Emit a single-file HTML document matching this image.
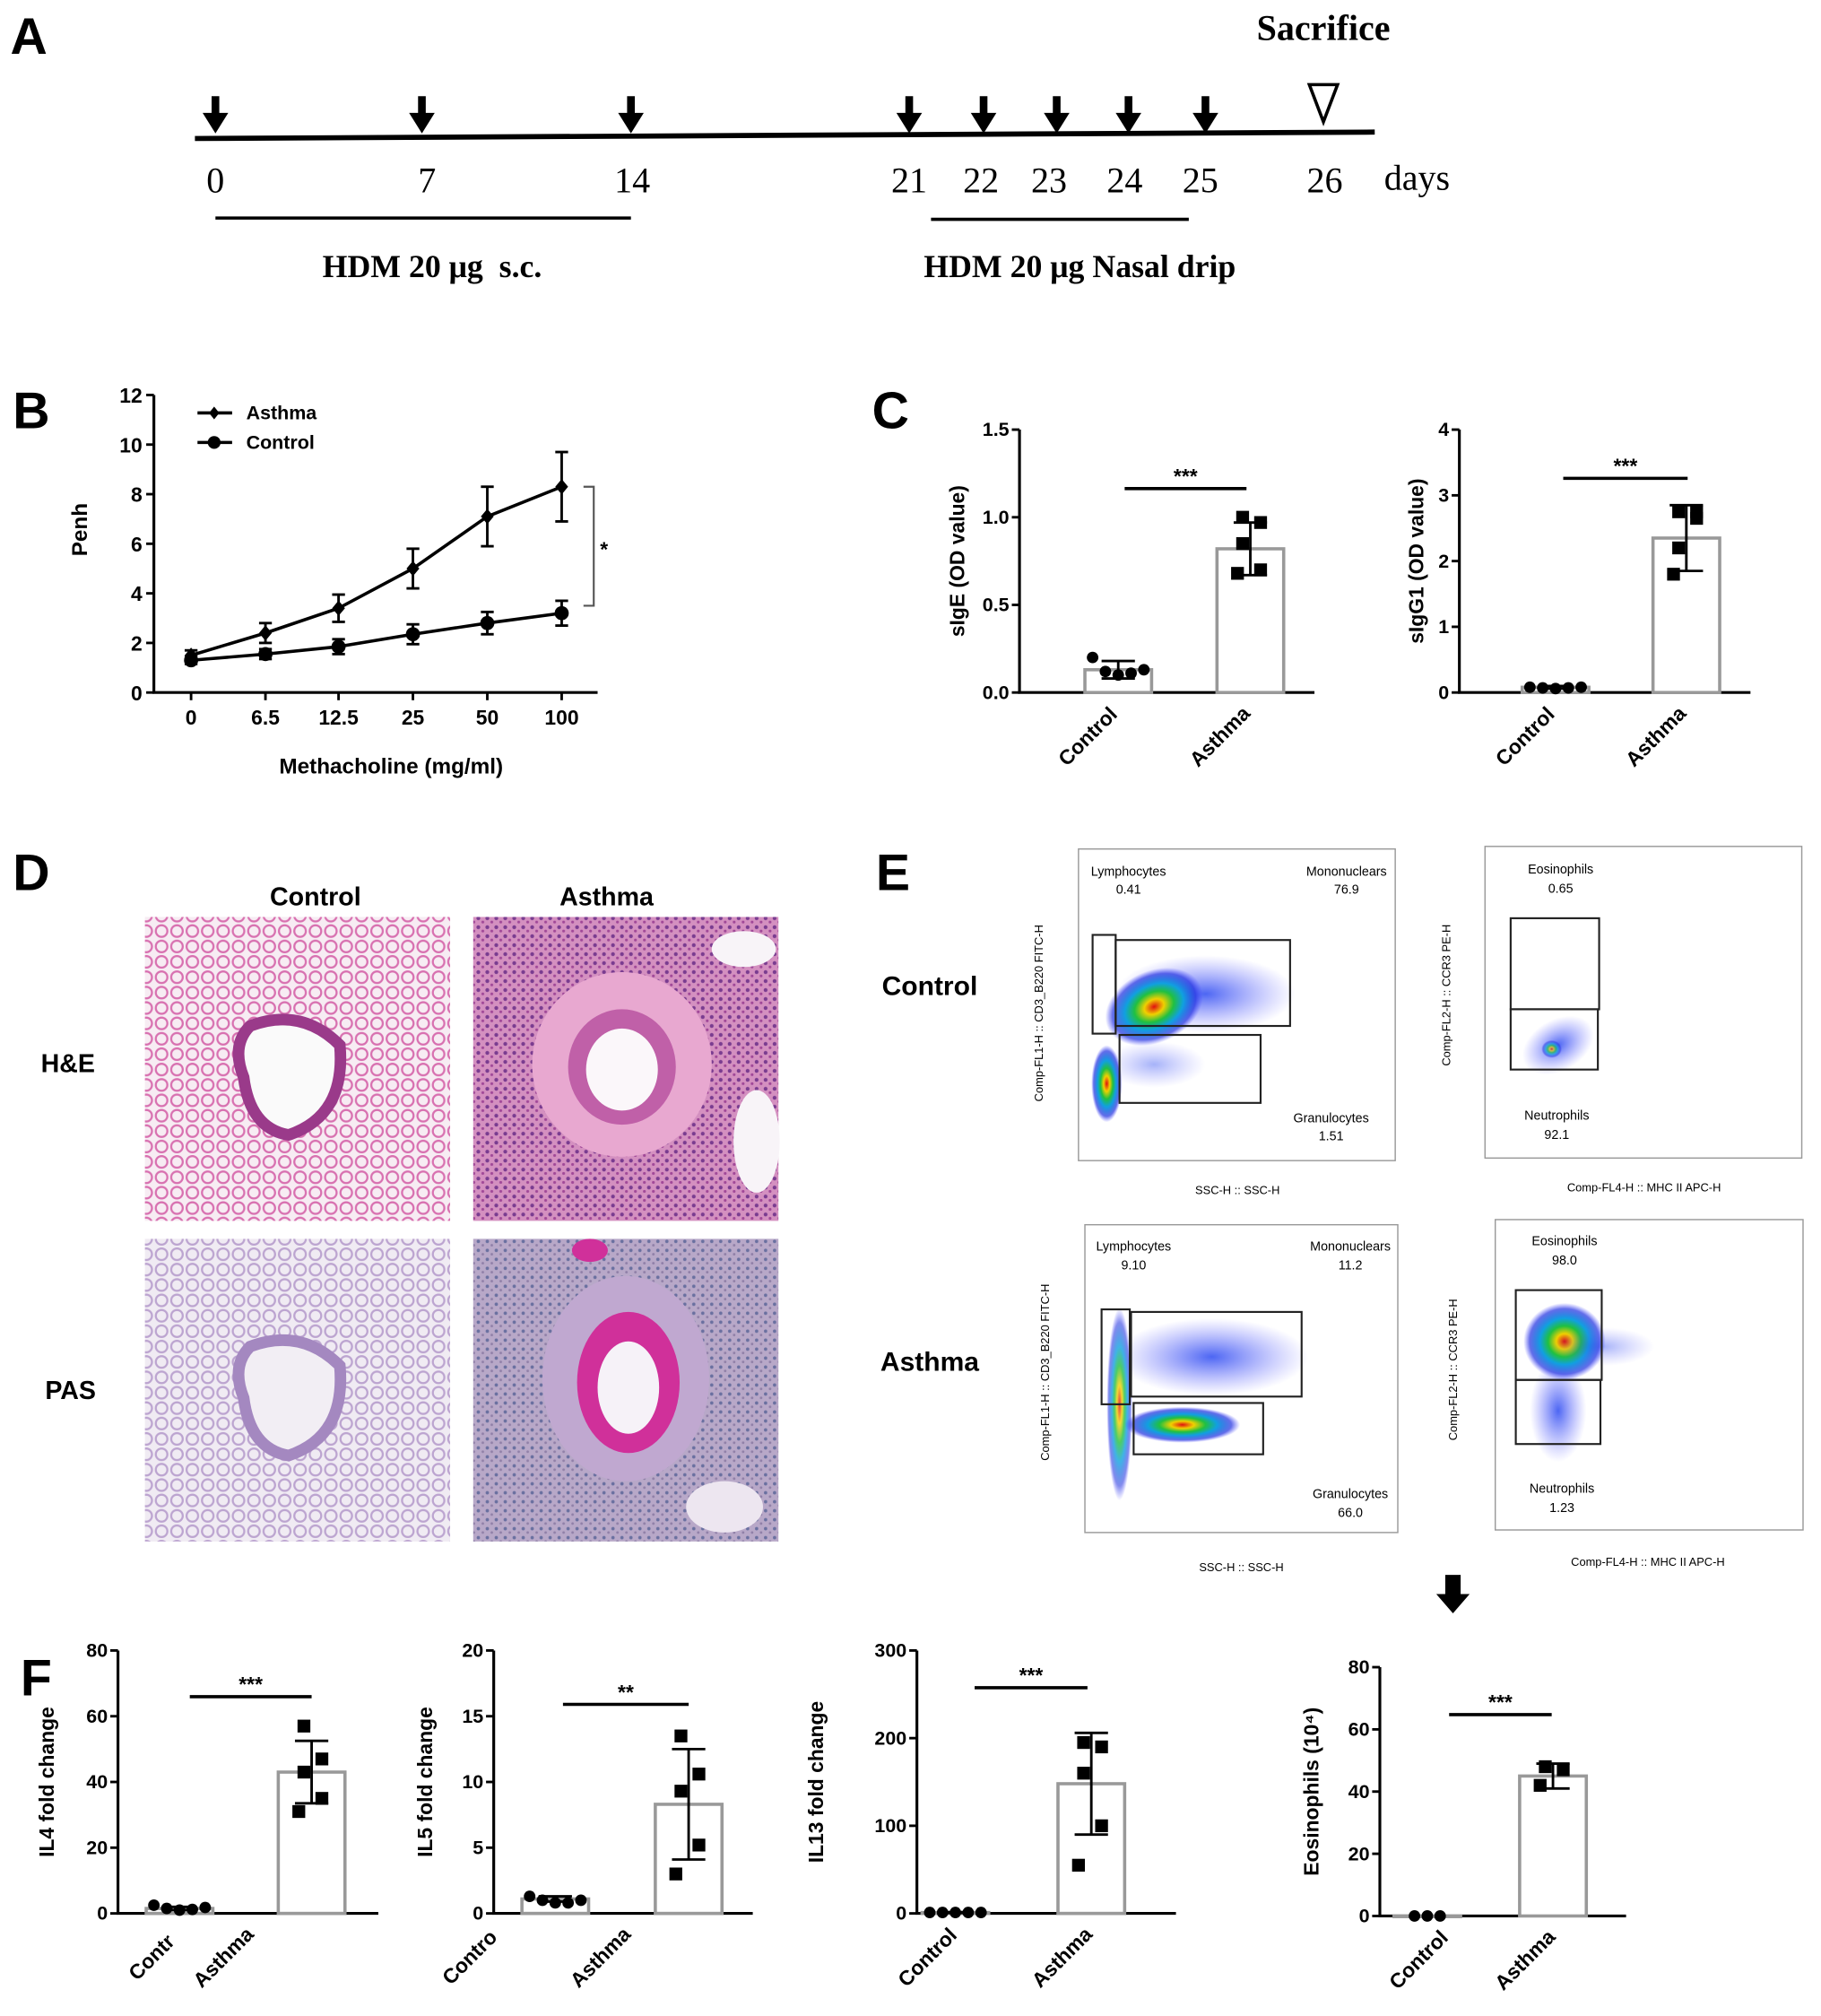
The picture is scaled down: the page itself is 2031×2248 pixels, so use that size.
<!DOCTYPE html>
<html><head><meta charset="utf-8"><style>
html,body{margin:0;padding:0;background:#fff;}
svg{display:block;}
text{font-family:"Liberation Sans",sans-serif;}
text.ser,.ser text{font-family:"Liberation Serif",serif;}
.b{font-weight:bold;}
</style></head><body>
<svg id="fig" width="2031" height="2248" viewBox="0 0 1420 1572" preserveAspectRatio="none" xmlns="http://www.w3.org/2000/svg">
<defs>
<radialGradient id="heat" cx="50%" cy="50%" r="50%">
<stop offset="0" stop-color="#e01010"/><stop offset="0.2" stop-color="#f0d000"/><stop offset="0.4" stop-color="#20c040"/><stop offset="0.6" stop-color="#10a0e0"/><stop offset="0.85" stop-color="#2030e0" stop-opacity="0.7"/><stop offset="1" stop-color="#4040ff" stop-opacity="0"/>
</radialGradient>
<radialGradient id="cool" cx="50%" cy="50%" r="50%">
<stop offset="0" stop-color="#2040f0" stop-opacity="0.8"/><stop offset="1" stop-color="#6060ff" stop-opacity="0"/>
</radialGradient>
<pattern id="he1" width="12" height="12" patternUnits="userSpaceOnUse"><rect width="12" height="12" fill="#f7ecf3"/><circle cx="6" cy="6" r="4.5" fill="none" stroke="#d870b0" stroke-width="1.6"/></pattern>
<pattern id="he2" width="7" height="7" patternUnits="userSpaceOnUse"><rect width="7" height="7" fill="#d490c0"/><circle cx="2" cy="2" r="1.5" fill="#7a3c90"/><circle cx="5.5" cy="5" r="1.1" fill="#a04898"/></pattern>
<pattern id="pas1" width="12" height="12" patternUnits="userSpaceOnUse"><rect width="12" height="12" fill="#f0ebf3"/><circle cx="6" cy="6" r="4.5" fill="none" stroke="#bca4d0" stroke-width="1.6"/></pattern>
<pattern id="pas2" width="7" height="7" patternUnits="userSpaceOnUse"><rect width="7" height="7" fill="#b8a8c8"/><circle cx="2" cy="2" r="1.3" fill="#6a70a0"/><circle cx="5.5" cy="5" r="1" fill="#9080a8"/></pattern>
</defs>

<!-- Panel A -->
<g>
<text x="8" y="42" font-size="40" class="b">A</text>
<text x="1032" y="31" font-size="28" class="ser b" text-anchor="middle">Sacrifice</text>
<line x1="152" y1="108" x2="1072" y2="103" stroke="#000" stroke-width="4"/>
<g id="arrows"></g>
<path d="M1021 66 L1043 66 L1032 95 Z" fill="none" stroke="#000" stroke-width="2.5"/>
<g id="daylabels" class="ser" font-size="28"></g>
<text x="1105" y="148" font-size="28" class="ser" text-anchor="middle">days</text>
<line x1="168" y1="170" x2="492" y2="170" stroke="#000" stroke-width="2.5"/>
<line x1="726" y1="171" x2="927" y2="171" stroke="#000" stroke-width="2.5"/>
<text x="337" y="216" font-size="25" class="ser b" text-anchor="middle">HDM 20 μg&#160; s.c.</text>
<text x="842" y="216" font-size="25" class="ser b" text-anchor="middle">HDM 20 μg Nasal drip</text>
</g>

<!-- Panel B -->
<g id="panelB">
<text x="10" y="334" font-size="40" class="b">B</text>
</g>

<!-- Panel C -->
<g id="panelC">
<text x="680" y="334" font-size="40" class="b">C</text>
</g>

<!-- Panel D -->
<g>
<text x="10" y="694" font-size="40" class="b">D</text>
<text x="246" y="706" font-size="20" class="b" text-anchor="middle">Control</text>
<text x="473" y="706" font-size="20" class="b" text-anchor="middle">Asthma</text>
<text x="53" y="836" font-size="20" class="b" text-anchor="middle">H&amp;E</text>
<text x="55" y="1091" font-size="20" class="b" text-anchor="middle">PAS</text>
<g>
<rect x="113" y="715" width="238" height="237" fill="url(#he1)"/>
<path d="M195 800 Q235 785 265 815 Q270 870 225 885 Q195 880 190 840 Q180 815 195 800 Z" fill="#fafafa" stroke="#9a3a8a" stroke-width="9"/>
</g>
<g>
<rect x="369" y="715" width="238" height="237" fill="url(#he2)"/>
<ellipse cx="485" cy="830" rx="70" ry="72" fill="#e8a8d0"/>
<ellipse cx="485" cy="832" rx="42" ry="45" fill="#c060a8"/>
<ellipse cx="485" cy="834" rx="28" ry="32" fill="#fbf7fa"/>
<ellipse cx="580" cy="740" rx="25" ry="14" fill="#f8f4f8"/>
<ellipse cx="590" cy="890" rx="18" ry="40" fill="#f8f4f8"/>
</g>
<g>
<rect x="113" y="966" width="238" height="236" fill="url(#pas1)"/>
<path d="M195 1050 Q235 1035 265 1065 Q270 1120 225 1135 Q195 1130 190 1090 Q180 1065 195 1050 Z" fill="#f2eef4" stroke="#a488c0" stroke-width="9"/>
</g>
<g>
<rect x="369" y="966" width="238" height="236" fill="url(#pas2)"/>
<ellipse cx="488" cy="1075" rx="65" ry="80" fill="#c0a8d0"/>
<ellipse cx="490" cy="1078" rx="40" ry="55" fill="#d0309a"/>
<ellipse cx="490" cy="1082" rx="24" ry="36" fill="#f6f2f8"/>
<ellipse cx="460" cy="975" rx="14" ry="9" fill="#d0309a"/>
<ellipse cx="565" cy="1175" rx="30" ry="20" fill="#ede6f0"/>
</g>
</g>

<!-- Panel E -->
<g id="panelE">
<text x="683" y="694" font-size="40" class="b">E</text>
<text x="725" y="776" font-size="21" class="b" text-anchor="middle">Control</text>
<text x="725" y="1069" font-size="21" class="b" text-anchor="middle">Asthma</text>

<g>
<rect x="841" y="662" width="247" height="243" fill="#fff" stroke="#999" stroke-width="1"/>
<ellipse cx="940" cy="775" rx="70" ry="30" fill="url(#cool)"/>
<ellipse cx="900" cy="785" rx="40" ry="28" fill="url(#heat)" transform="rotate(-25 900 785)"/>
<ellipse cx="863" cy="845" rx="12" ry="30" fill="url(#heat)"/>
<ellipse cx="900" cy="830" rx="40" ry="18" fill="url(#cool)" opacity="0.5"/>
<rect x="852" y="729" width="18" height="77" fill="none" stroke="#222" stroke-width="1.5"/>
<rect x="870" y="733" width="136" height="67" fill="none" stroke="#222" stroke-width="1.5"/>
<rect x="873" y="807" width="110" height="53" fill="none" stroke="#222" stroke-width="1.5"/>
<text x="880" y="683" font-size="10" text-anchor="middle">Lymphocytes</text><text x="880" y="697" font-size="10" text-anchor="middle">0.41</text>
<text x="1050" y="683" font-size="10" text-anchor="middle">Mononuclears</text><text x="1050" y="697" font-size="10" text-anchor="middle">76.9</text>
<text x="1038" y="875" font-size="10" text-anchor="middle">Granulocytes</text><text x="1038" y="889" font-size="10" text-anchor="middle">1.51</text>
<text x="965" y="931" font-size="9" text-anchor="middle">SSC-H :: SSC-H</text>
<text x="813" y="790" font-size="9" text-anchor="middle" transform="rotate(-90 813 790)">Comp-FL1-H :: CD3_B220 FITC-H</text>
</g>
<g>
<rect x="1158" y="660" width="247" height="243" fill="#fff" stroke="#999" stroke-width="1"/>
<ellipse cx="1215" cy="815" rx="30" ry="20" fill="url(#cool)" transform="rotate(-30 1215 815)"/>
<ellipse cx="1210" cy="818" rx="8" ry="7" fill="url(#heat)" opacity="0.7"/>
<rect x="1178" y="716" width="69" height="71" fill="none" stroke="#222" stroke-width="1.5"/>
<rect x="1178" y="787" width="68" height="47" fill="none" stroke="#222" stroke-width="1.5"/>
<text x="1217" y="681" font-size="10" text-anchor="middle">Eosinophils</text><text x="1217" y="696" font-size="10" text-anchor="middle">0.65</text>
<text x="1214" y="873" font-size="10" text-anchor="middle">Neutrophils</text><text x="1214" y="888" font-size="10" text-anchor="middle">92.1</text>
<text x="1282" y="929" font-size="9" text-anchor="middle">Comp-FL4-H :: MHC II APC-H</text>
<text x="1131" y="776" font-size="9" text-anchor="middle" transform="rotate(-90 1131 776)">Comp-FL2-H :: CCR3 PE-H</text>
</g>
<g>
<rect x="846" y="955" width="244" height="240" fill="#fff" stroke="#999" stroke-width="1"/>
<ellipse cx="945" cy="1058" rx="75" ry="30" fill="url(#cool)"/>
<ellipse cx="873" cy="1095" rx="10" ry="75" fill="url(#heat)" opacity="0.8"/>
<ellipse cx="922" cy="1111" rx="45" ry="14" fill="url(#heat)"/>
<rect x="859" y="1021" width="22" height="74" fill="none" stroke="#222" stroke-width="1.5"/>
<rect x="882" y="1023" width="133" height="66" fill="none" stroke="#222" stroke-width="1.5"/>
<rect x="884" y="1094" width="101" height="40" fill="none" stroke="#222" stroke-width="1.5"/>
<text x="884" y="975" font-size="10" text-anchor="middle">Lymphocytes</text><text x="884" y="990" font-size="10" text-anchor="middle">9.10</text>
<text x="1053" y="975" font-size="10" text-anchor="middle">Mononuclears</text><text x="1053" y="990" font-size="10" text-anchor="middle">11.2</text>
<text x="1053" y="1168" font-size="10" text-anchor="middle">Granulocytes</text><text x="1053" y="1183" font-size="10" text-anchor="middle">66.0</text>
<text x="968" y="1225" font-size="9" text-anchor="middle">SSC-H :: SSC-H</text>
<text x="818" y="1070" font-size="9" text-anchor="middle" transform="rotate(-90 818 1070)">Comp-FL1-H :: CD3_B220 FITC-H</text>
</g>
<g>
<rect x="1166" y="951" width="240" height="242" fill="#fff" stroke="#999" stroke-width="1"/>
<ellipse cx="1215" cy="1100" rx="22" ry="40" fill="url(#cool)"/>
<ellipse cx="1220" cy="1046" rx="32" ry="30" fill="url(#heat)"/>
<ellipse cx="1250" cy="1050" rx="40" ry="15" fill="url(#cool)" opacity="0.5"/>
<rect x="1182" y="1006" width="67" height="70" fill="none" stroke="#222" stroke-width="1.5"/>
<rect x="1182" y="1076" width="66" height="50" fill="none" stroke="#222" stroke-width="1.5"/>
<text x="1220" y="971" font-size="10" text-anchor="middle">Eosinophils</text><text x="1220" y="986" font-size="10" text-anchor="middle">98.0</text>
<text x="1218" y="1164" font-size="10" text-anchor="middle">Neutrophils</text><text x="1218" y="1179" font-size="10" text-anchor="middle">1.23</text>
<text x="1285" y="1221" font-size="9" text-anchor="middle">Comp-FL4-H :: MHC II APC-H</text>
<text x="1136" y="1068" font-size="9" text-anchor="middle" transform="rotate(-90 1136 1068)">Comp-FL2-H :: CCR3 PE-H</text>
</g>
<path d="M1127 1228 L1139 1228 L1139 1243 L1146 1243 L1133 1258 L1120 1243 L1127 1243 Z" fill="#000"/>
</g>

<!-- Panel F -->
<g id="panelF">
<text x="16" y="1322" font-size="40" class="b">F</text>
</g>
</svg>

<script>
// ===== Panel A data =====
const arrowDays = [0, 7, 14, 21, 22, 23, 24, 25];
const dayLabels = ["0","7","14","21","22","23","24","25","26"];
const dayLabelX = [168,333,493,709,765,818,877,936,1033];
const arrowX = [168,329,492,709,767,824,880,940];

// ===== Panel B data =====
const doseLabels = ["0","6.5","12.5","25","50","100"];
const asthmaPenh = [1.5, 2.4, 3.4, 5.0, 7.1, 8.3];
const asthmaErr = [0.2, 0.4, 0.55, 0.8, 1.2, 1.4];
const controlPenh = [1.3, 1.55, 1.85, 2.35, 2.8, 3.2];
const controlErr = [0.15, 0.2, 0.3, 0.4, 0.45, 0.5];
const penhTicks = [0, 2, 4, 6, 8, 10, 12];

// ===== Panel C data =====
const groups = ["Control", "Asthma"];
const sigEMeans = [0.13, 0.82];
const sigESd = [0.05, 0.15];
const sigEControlPts = [0.2, 0.12, 0.1, 0.11, 0.13];
const sigEAsthmaPts = [1.0, 0.97, 0.85, 0.7, 0.68];
const sigETicks = ["0.0","0.5","1.0","1.5"];
const sigG1Means = [0.08, 2.35];
const sigG1Sd = [0.02, 0.5];
const sigG1ControlPts = [0.08, 0.07, 0.06, 0.07, 0.08];
const sigG1AsthmaPts = [2.75, 2.65, 2.2, 2.75, 1.8];
const sigG1Ticks = ["0","1","2","3","4"];

// ===== Panel F data =====
const il4Means = [1.5, 43];
const il4Sd = [0.5, 9.5];
const il4ControlPts = [2.5, 1.5, 1.0, 1.2, 1.8];
const il4AsthmaPts = [57, 47, 43, 35, 31];
const il4Ticks = [0, 20, 40, 60, 80];
const il5Means = [1.1, 8.3];
const il5Sd = [0.2, 4.2];
const il5ControlPts = [1.3, 1.0, 0.8, 0.8, 1.0];
const il5AsthmaPts = [13.5, 10.6, 9.3, 5.2, 3.0];
const il5Ticks = [0, 5, 10, 15, 20];
const il13Means = [1, 148];
const il13Sd = [0.5, 58];
const il13ControlPts = [1, 1, 1, 1, 1];
const il13AsthmaPts = [195, 190, 160, 100, 55];
const il13Ticks = [0, 100, 200, 300];
const eosMeans = [0, 45];
const eosSd = [0, 4];
const eosControlPts = [0, 0, 0];
const eosAsthmaPts = [48, 47, 42];
const eosTicks = [0, 20, 40, 60, 80];

const NS = "http://www.w3.org/2000/svg";
function mk(tag, attrs, parent, txt) {
  const e = document.createElementNS(NS, tag);
  for (const k in attrs) e.setAttribute(k, attrs[k]);
  if (txt !== undefined) e.textContent = txt;
  parent.appendChild(e);
  return e;
}

// ---- Panel A
(function(){
  const g = document.getElementById('arrows');
  arrowDays.forEach((d, i) => {
    const x = arrowX[i];
    const a = mk('path', {d:`M${x-3} 75 L${x+3} 75 L${x+3} 88 L${x+10} 88 L${x} 104 L${x-10} 88 L${x-3} 88 Z`, fill:'#000'}, g);
    
    
  });
  const dl = document.getElementById('daylabels');
  dayLabels.forEach((l, i) => {
    const t = mk('text', {x:dayLabelX[i], y:150, 'text-anchor':'middle', class:'ser'}, dl, l);
    
    
  });
})();

// ---- Panel B
(function(){
  const g = document.getElementById('panelB');
  const x0 = 120, yB = 540, yT = 308;
  const xs = [149, 207, 264, 322, 380, 438];
  const y = v => yB - (v / 12) * (yB - yT);
  const ax = mk('path', {d:`M${x0} ${yT} L${x0} ${yB} L466 ${yB}`, fill:'none', stroke:'#000', 'stroke-width':2.2}, g);
  
  
  penhTicks.forEach(v => {
    mk('line', {x1:x0-6, x2:x0, y1:y(v), y2:y(v), stroke:'#000', 'stroke-width':2}, g);
    const t = mk('text', {x:x0-9, y:y(v)+6, 'font-size':16, 'font-weight':'bold', 'text-anchor':'end'}, g, String(v));
    
    
  });
  doseLabels.forEach((l, i) => {
    mk('line', {x1:xs[i], x2:xs[i], y1:yB, y2:yB+6, stroke:'#000', 'stroke-width':2}, g);
    const t = mk('text', {x:xs[i], y:565, 'font-size':16, 'font-weight':'bold', 'text-anchor':'middle'}, g, l);
    
    
  });
  const yl = mk('text', {x:68, y:413, 'font-size':17, 'font-weight':'bold', 'text-anchor':'middle', transform:'rotate(-90 68 413)'}, g, 'Penh');
  
  
  const xl = mk('text', {x:305, y:603, 'font-size':17, 'font-weight':'bold', 'text-anchor':'middle'}, g, 'Methacholine (mg/ml)');
  
  
  function series(vals, errs, name, marker) {
    const sg = mk('g', {}, g);
    
    
    mk('polyline', {points: vals.map((v,i)=>`${xs[i]},${y(v)}`).join(' '), fill:'none', stroke:'#000', 'stroke-width':2.5}, sg);
    vals.forEach((v, i) => {
      const x = xs[i];
      mk('line', {x1:x, x2:x, y1:y(v+errs[i]), y2:y(v-errs[i]), stroke:'#000', 'stroke-width':2}, sg);
      mk('line', {x1:x-5, x2:x+5, y1:y(v+errs[i]), y2:y(v+errs[i]), stroke:'#000', 'stroke-width':2}, sg);
      mk('line', {x1:x-5, x2:x+5, y1:y(v-errs[i]), y2:y(v-errs[i]), stroke:'#000', 'stroke-width':2}, sg);
      if (marker === 'd') mk('path', {d:`M${x} ${y(v)-6} L${x+5} ${y(v)} L${x} ${y(v)+6} L${x-5} ${y(v)} Z`, fill:'#000'}, sg);
      else mk('circle', {cx:x, cy:y(v), r:5.5, fill:'#000'}, sg);
    });
  }
  series(asthmaPenh, asthmaErr, 'asthma', 'd');
  series(controlPenh, controlErr, 'control', 'c');
  const lg = mk('g', {}, g);
  
  
  mk('line', {x1:154, x2:181, y1:322, y2:322, stroke:'#000', 'stroke-width':2.5}, lg);
  mk('path', {d:'M167 317 L171 322 L167 327 L163 322 Z', fill:'#000'}, lg);
  mk('text', {x:192, y:327, 'font-size':15, 'font-weight':'bold'}, lg, 'Asthma');
  mk('line', {x1:154, x2:181, y1:345, y2:345, stroke:'#000', 'stroke-width':2.5}, lg);
  mk('circle', {cx:167, cy:345, r:5, fill:'#000'}, lg);
  mk('text', {x:192, y:350, 'font-size':15, 'font-weight':'bold'}, lg, 'Control');
  const br = mk('path', {d:`M455 ${y(8.3)} L463 ${y(8.3)} L463 ${y(3.5)} L455 ${y(3.5)}`, fill:'none', stroke:'#555', 'stroke-width':1.5}, g);
  
  
  mk('text', {x:471, y:434, 'font-size':16, 'font-weight':'bold', 'text-anchor':'middle'}, g, '*');
})();

// ---- generic bar chart
function barChart(parent, o) {
  const g = mk('g', {}, parent);
  
  
  const yB = o.yB, yT = o.yT, maxV = o.max;
  const y = v => yB - (v / maxV) * (yB - yT);
  mk('path', {d:`M${o.x0} ${yT} L${o.x0} ${yB} L${o.x1} ${yB}`, fill:'none', stroke:'#000', 'stroke-width':2.2}, g);
  o.ticks.forEach(tl => {
    const v = parseFloat(tl);
    mk('line', {x1:o.x0-6, x2:o.x0, y1:y(v), y2:y(v), stroke:'#000', 'stroke-width':2}, g);
    const t = mk('text', {x:o.x0-8, y:y(v)+5, 'font-size':15, 'font-weight':'bold', 'text-anchor':'end'}, g, String(tl));
    
    
  });
  const bw = 52;
  o.means.forEach((m, i) => {
    const cx = o.cx[i];
    const bar = mk('rect', {x:cx-bw/2, y:y(m), width:bw, height:Math.max(yB-y(m),0.5), fill:'#fff', stroke:'#999', 'stroke-width':2.5}, g);
    
    
    const sd = o.sd[i];
    if (sd > 0) {
      mk('line', {x1:cx, x2:cx, y1:y(m+sd), y2:y(Math.max(m-sd,0)), stroke:'#000', 'stroke-width':2}, g);
      mk('line', {x1:cx-13, x2:cx+13, y1:y(m+sd), y2:y(m+sd), stroke:'#000', 'stroke-width':2}, g);
      mk('line', {x1:cx-13, x2:cx+13, y1:y(Math.max(m-sd,0)), y2:y(Math.max(m-sd,0)), stroke:'#000', 'stroke-width':2}, g);
    }
  });
  const n1 = o.cPts.length;
  const spread = n1 <= 3 ? 20 : 40;
  o.cPts.forEach((v, j) => {
    const px = o.cx[0] - spread/2 + j * (spread / Math.max(n1-1,1));
    const c = mk('circle', {cx:px, cy:y(v), r:4.5, fill:'#000'}, g);
    
    
  });
  const n2 = o.aPts.length;
  o.aPts.forEach((v, j) => {
    const px = o.cx[1] + (j % 2 === 0 ? -6 : 8) + (j === n2-1 ? -4 : 0);
    const s = mk('rect', {x:px-5, y:y(v)-5, width:10, height:10, fill:'#000'}, g);
    
    
  });
  const sig = mk('line', {x1:o.sig[0], x2:o.sig[1], y1:o.sigY, y2:o.sigY, stroke:'#000', 'stroke-width':2.5}, g);
  
  
  mk('text', {x:(o.sig[0]+o.sig[1])/2, y:o.sigY-4, 'font-size':16, 'font-weight':'bold', 'text-anchor':'middle'}, g, o.stars);
  const yl = mk('text', {x:o.ylx, y:(yT+yB)/2, 'font-size':16, 'font-weight':'bold', 'text-anchor':'middle', transform:`rotate(-90 ${o.ylx} ${(yT+yB)/2})`}, g, o.ylabel);
  
  
  (o.xlabels || groups).forEach((l, i) => {
    const lx = o.xlx[i], ly = yB + 38;
    const t = mk('text', {x:lx, y:ly, 'font-size':16, 'font-weight':'bold', 'text-anchor':'middle', transform:`rotate(-45 ${lx} ${ly})`}, g, l);
    
    
  });
  return g;
}

const pc = document.getElementById('panelC');
barChart(pc, {name:'sige-chart', x0:795, x1:1025, yT:335, yB:540, max:1.5, ticks:sigETicks, cx:[872,975], means:sigEMeans, sd:sigESd, cPts:sigEControlPts, aPts:sigEAsthmaPts, sig:[877,972], sigY:381, stars:'***', ylx:752, ylabel:'sIgE (OD value)', xlx:[852,955]});
barChart(pc, {name:'sigg1-chart', x0:1138, x1:1365, yT:335, yB:540, max:4, ticks:sigG1Ticks, cx:[1213,1315], means:sigG1Means, sd:sigG1Sd, cPts:sigG1ControlPts, aPts:sigG1AsthmaPts, sig:[1219,1316], sigY:373, stars:'***', ylx:1110, ylabel:'sIgG1 (OD value)', xlx:[1193,1295]});

const pf = document.getElementById('panelF');
barChart(pf, {name:'il4-chart', x0:92, x1:295, yT:1287, yB:1492, max:80, ticks:il4Ticks, cx:[140,243], means:il4Means, sd:il4Sd, cPts:il4ControlPts, aPts:il4AsthmaPts, sig:[148,243], sigY:1323, stars:'***', ylx:42, ylabel:'IL4 fold change', xlx:[122,178], xlabels:['Contr','Asthma']});
barChart(pf, {name:'il5-chart', x0:385, x1:587, yT:1287, yB:1492, max:20, ticks:il5Ticks, cx:[433,537], means:il5Means, sd:il5Sd, cPts:il5ControlPts, aPts:il5AsthmaPts, sig:[439,537], sigY:1329, stars:'**', ylx:337, ylabel:'IL5 fold change', xlx:[370,472], xlabels:['Contro','Asthma']});
barChart(pf, {name:'il13-chart', x0:715, x1:917, yT:1287, yB:1492, max:300, ticks:il13Ticks, cx:[745,851], means:il13Means, sd:il13Sd, cPts:il13ControlPts, aPts:il13AsthmaPts, sig:[760,848], sigY:1316, stars:'***', ylx:642, ylabel:'IL13 fold change', xlx:[727,832]});
barChart(pf, {name:'eosinophil-chart', x0:1076, x1:1268, yT:1300, yB:1494, max:80, ticks:eosTicks, cx:[1113,1211], means:eosMeans, sd:eosSd, cPts:eosControlPts, aPts:eosAsthmaPts, sig:[1130,1210], sigY:1337, stars:'***', ylx:1028, ylabel:'Eosinophils (10⁴)', xlx:[1110,1193]});
</script>
</body></html>
